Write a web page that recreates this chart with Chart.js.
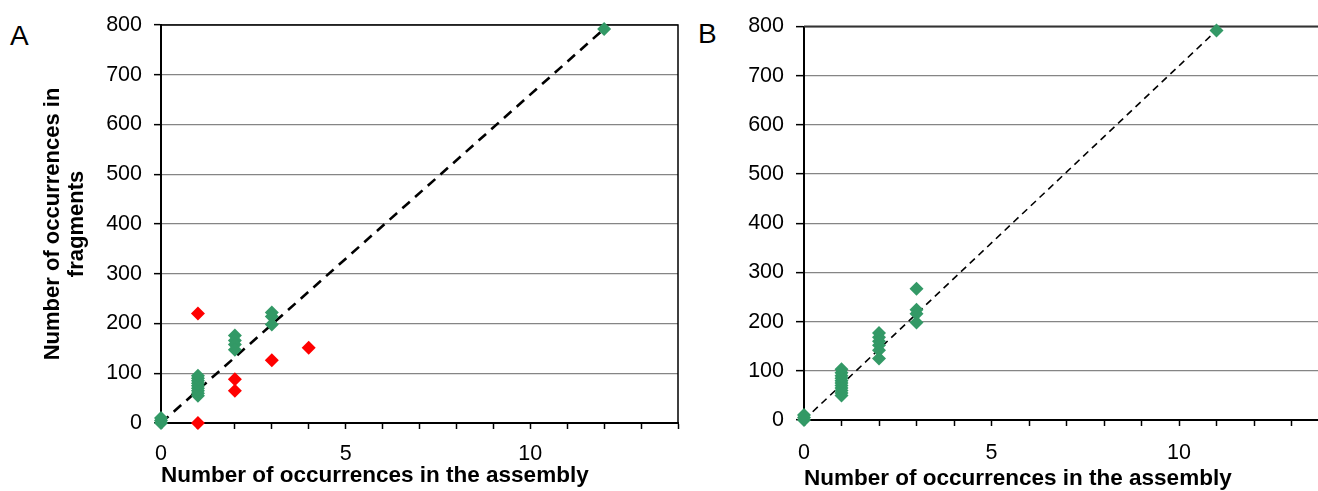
<!DOCTYPE html>
<html>
<head>
<meta charset="utf-8">
<script src="https://cdn.jsdelivr.net/npm/chart.js@4.4.0/dist/chart.umd.min.js"></script>
<style>
html,body{margin:0;padding:0;background:#fff;overflow:hidden;width:1318px;height:491px;}
#wrapA{position:absolute;left:0;top:0;width:690px;height:491px;}
#wrapB{position:absolute;left:690px;top:0;width:660px;height:491px;}
.panel{position:absolute;font-family:"Liberation Sans",Arial,sans-serif;font-size:28px;line-height:28px;color:#000;}
</style>
</head>
<body>
<div class="panel" style="left:10px;top:22px;">A</div>
<div class="panel" style="left:698px;top:20px;">B</div>
<div id="wrapA"><canvas id="cA" width="690" height="491"></canvas></div>
<div id="wrapB"><canvas id="cB" width="660" height="491"></canvas></div>
<script>
// ---- Data: panel A ----
const greenA_x = [0, 0, 0, 1, 1, 1, 1, 1, 1, 1, 1, 1, 2, 2, 2, 2, 3, 3, 3, 12];
const greenA_y = [0, 5, 10, 55, 60, 65, 70, 75, 80, 85, 90, 95, 176, 166, 158, 147, 222, 214, 198, 792];
const redA_x = [1, 1, 2, 2, 3, 4];
const redA_y = [220, 0, 88, 65, 126, 151];
const lineA_x = [0, 12];
const lineA_y = [0, 792];

// ---- Data: panel B ----
const greenB_x = [0, 0, 0, 1, 1, 1, 1, 1, 1, 1, 1, 1, 1, 1, 2, 2, 2, 2, 2, 2, 3, 3, 3, 3, 11];
const greenB_y = [0, 5, 10, 50, 55, 60, 65, 70, 75, 80, 85, 90, 96, 103, 177, 168, 160, 152, 142, 125, 267, 224, 216, 198, 792];
const lineB_x = [0, 11];
const lineB_y = [0, 792];

// ---- Axis text ----
const xLabelValues = [0, 5, 10];
const xAxisTitle = 'Number of occurrences in the assembly';
const yAxisTitleA = ['Number of occurrences in', 'fragments'];

const FONT = '"Liberation Sans", Arial, sans-serif';
const GREEN = '#339966';
const RED = '#ff0000';

function pts(xs, ys) { return xs.map((x, i) => ({x: x, y: ys[i]})); }

function frame(color, width) {
  return {
    id: 'frame',
    beforeDatasetsDraw(chart) {
      const a = chart.chartArea, ctx = chart.ctx;
      ctx.save();
      ctx.strokeStyle = color;
      ctx.lineWidth = width;
      ctx.beginPath();
      ctx.moveTo(a.left, a.top);
      ctx.lineTo(a.right, a.top);
      ctx.lineTo(a.right, a.bottom);
      ctx.stroke();
      ctx.restore();
    }
  };
}

function markerSet(data, color) {
  return {
    data: data, showLine: false, pointStyle: 'rectRot', pointRadius: 7,
    pointBackgroundColor: color, pointBorderWidth: 0, backgroundColor: color,
    borderColor: color, clip: false
  };
}

function lineSet(data, width, dash) {
  return {
    data: data, showLine: true, pointRadius: 0, borderColor: '#000',
    borderWidth: width, borderDash: dash, fill: false, clip: false
  };
}

function makeScales(o) {
  const y = {
    type: 'linear', min: 0, max: 800,
    ticks: {stepSize: 100, font: {family: FONT, size: 21.5}, color: '#000', padding: o.yPad},
    grid: {color: '#858585', lineWidth: 1.3, tickLength: o.yTick, tickColor: '#000', tickWidth: 1.5, drawTicks: true},
    border: {display: true, color: '#000', width: 2},
    afterFit(s) { s.width = o.yWidth; }
  };
  if (o.yTitle) {
    y.title = {display: true, text: o.yTitle, color: '#000',
      font: {family: FONT, size: 22, weight: 'bold', lineHeight: 1.1},
      padding: {top: 41, bottom: 0}};
  }
  const x = {
    type: 'linear', min: 0, max: 14,
    ticks: {stepSize: 1, autoSkip: false, maxRotation: 0, minRotation: 0,
      font: {family: FONT, size: 21.5}, color: '#000', padding: o.xPad,
      callback: v => xLabelValues.includes(v) ? String(v) : ''},
    grid: {drawOnChartArea: false, drawTicks: true, tickLength: 6, tickColor: '#000', tickWidth: 1.5},
    border: {display: true, color: '#000', width: 2},
    title: {display: true, text: xAxisTitle, align: 'start', color: '#000',
      font: {family: FONT, size: 22.5, weight: 'bold', lineHeight: 1.1},
      padding: {top: 0, bottom: o.xTitlePad}},
    afterFit(s) { s.height = o.xHeight; }
  };
  return {x: x, y: y};
}

const common = {
  responsive: false, animation: false, events: [],
  plugins: {legend: {display: false}, tooltip: {enabled: false}, title: {display: false}}
};

new Chart(document.getElementById('cA'), {
  type: 'scatter',
  data: {datasets: [
    markerSet(pts(greenA_x, greenA_y), GREEN),
    markerSet(pts(redA_x, redA_y), RED),
    lineSet(pts(lineA_x, lineA_y), 2.6, [10, 7])
  ]},
  options: Object.assign({}, common, {
    layout: {padding: {left: 0, right: 12, top: 22, bottom: 0}},
    scales: makeScales({yPad: 12, yTick: 7, yWidth: 161, yTitle: yAxisTitleA, xPad: 12, xHeight: 68, xTitlePad: 3})
  }),
  plugins: [frame('#000', 1.5)]
});

new Chart(document.getElementById('cB'), {
  type: 'scatter',
  data: {datasets: [
    markerSet(pts(greenB_x, greenB_y), GREEN),
    lineSet(pts(lineB_x, lineB_y), 1.6, [7, 5])
  ]},
  options: Object.assign({}, common, {
    layout: {padding: {left: 0, right: 21, top: 26.5, bottom: 0}},
    scales: makeScales({yPad: 12, yTick: 8, yWidth: 114, yTitle: null, xPad: 14, xHeight: 71, xTitlePad: 0})
  }),
  plugins: [frame('#333', 2)]
});
</script>
</body>
</html>
